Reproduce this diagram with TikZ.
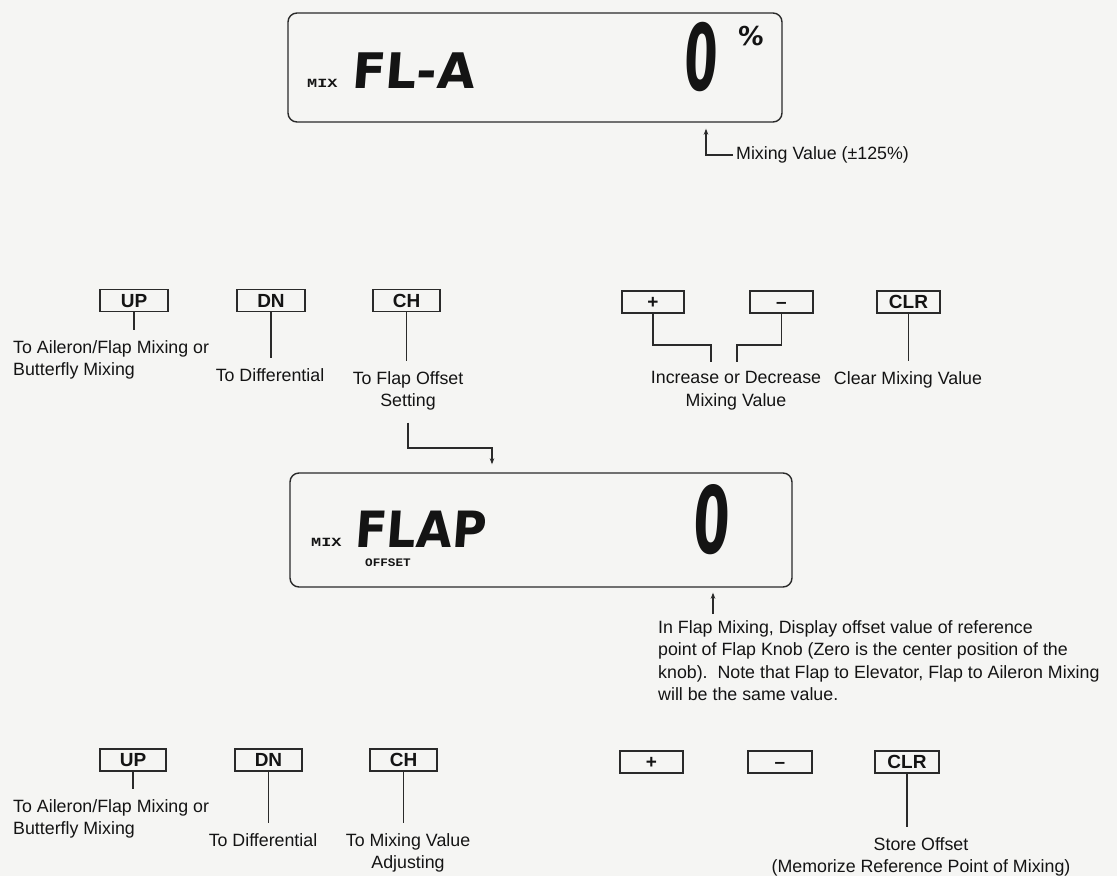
\documentclass[tikz,border=0pt]{standalone}
\usepackage{graphicx}
\usepackage{fontspec}
\setmainfont{Liberation Sans}
\newfontfamily\lcdfont[FakeSlant=0.08]{DejaVu Sans}
\newfontfamily\mixfont{Liberation Mono}
\usetikzlibrary{arrows.meta}
\definecolor{ink}{HTML}{141414}
\definecolor{lc}{HTML}{2A2A2A}
\definecolor{bg}{HTML}{F5F5F3}
\begin{document}
\begin{tikzpicture}[x=1pt,y=-1pt,
  ln/.style={draw=lc,line width=1.3pt},
  lead/.style={ln,shorten >=10pt},
  arr/.style={-{Stealth[length=6pt,width=4.5pt]}},
  btn/.style={draw=lc,line width=1.3pt,inner sep=0pt,text=ink,font=\fontsize{19}{19}\selectfont\bfseries,minimum height=22pt,text height=13.6pt,text depth=0pt},
  lbl/.style={inner sep=0pt,text=ink,font=\fontsize{17.8}{22.6}\selectfont},
  lcd/.style={draw=lc,line width=1.4pt,rounded corners=9pt,inner sep=0pt},
  lcdtxt/.style={inner sep=0pt,text=ink,anchor=base west},
]
\fill[bg] (0,0) rectangle (1117,876);
\useasboundingbox (0,0) rectangle (1117,876);

% ---------- top LCD ----------
\node[lcd,minimum width=494pt,minimum height=109pt] (lcd1) at (535,67.5) {};
\node[lcdtxt,font=\fontsize{12.5}{12.5}\mixfont\bfseries] (mix1) at (307,87) {\scalebox{1.35}[1]{MIX}};
\node[lcdtxt,font=\fontsize{49}{49}\lcdfont\bfseries] (fla) at (351,88) {FL-A};
\node[lcdtxt,font=\fontsize{92}{92}\lcdfont\bfseries] (z1) at (683,90) {\scalebox{0.52}[1]{0}};
\node[lcdtxt,font=\fontsize{26}{26}\lcdfont\bfseries] (pc) at (737,45) {\%};

\node[lbl,anchor=west] (mvL) at (736,155) {Mixing Value (±125\%)};
\coordinate (mvc) at (706,155);
\draw[ln,arr,shorten <=3pt,shorten >=6pt] (mvL.west) -- (mvc) -- (mvc |- lcd1.south);

% ---------- first button row ----------
\node[btn,minimum width=68pt] (up1) at (134,300.5) {UP};
\node[btn,minimum width=68pt] (dn1) at (271,300.5) {DN};
\node[btn,minimum width=67pt] (ch1) at (406.5,300.5) {CH};
\node[btn,minimum width=62pt] (plus1) at (653,302) {+};
\node[btn,minimum width=63pt] (minus1) at (781.5,302) {\textendash};
\node[btn,minimum width=63pt] (clr1) at (908.5,302) {CLR};

\node[lbl,anchor=north west,align=left] (upL1) at (13,340) {To Aileron/Flap Mixing or\\Butterfly Mixing};
\node[lbl,anchor=north] (dnL1) at (270,368) {To Differential};
\node[lbl,anchor=north,align=center] (chL1) at (408,371) {To Flap Offset\\Setting};
\node[lbl,anchor=north,align=center] (incL) at (736,371) {Increase or Decrease\\Mixing Value};
\node[lbl,anchor=north] (clrL1) at (908,371) {Clear Mixing Value};

\draw[lead] (up1.south) -- (up1.south |- upL1.north);
\draw[lead] (dn1.south) -- (dn1.south |- dnL1.north);
\draw[lead] (ch1.south) -- (ch1.south |- chL1.north);
\draw[lead] (clr1.south) -- (clr1.south |- clrL1.north);
\coordinate (pa) at (711,345);
\coordinate (pb) at (737,345);
\draw[ln,shorten >=9pt] (plus1.south) |- (pa) -- (pa |- incL.north);
\draw[ln,shorten >=9pt] (minus1.south) |- (pb) -- (pb |- incL.north);

% ---------- second LCD ----------
\node[lcd,minimum width=502pt,minimum height=114pt] (lcd2) at (541,530) {};
\node[lcdtxt,font=\fontsize{12.5}{12.5}\mixfont\bfseries] (mix2) at (311,546) {\scalebox{1.35}[1]{MIX}};
\node[lcdtxt,font=\fontsize{50}{50}\lcdfont\bfseries] (flap) at (354,547) {\scalebox{0.93}[1]{FLAP}};
\node[lcdtxt,font=\fontsize{11.5}{11.5}\mixfont\bfseries] (off) at (365,566) {\scalebox{1.1}[1]{OFFSET}};
\node[lcdtxt,font=\fontsize{93}{93}\lcdfont\bfseries] (z2) at (692,553) {\scalebox{0.56}[1]{0}};

\coordinate (sb) at (492,448);
\draw[ln,arr,shorten <=12pt,shorten >=8pt] (chL1.south) |- (sb) -- (sb |- lcd2.north);

\node[lbl,anchor=north west,align=left] (note) at (658,620) {In Flap Mixing, Display offset value of reference\\point of Flap Knob (Zero is the center position of the\\knob).\ \ Note that Flap to Elevator, Flap to Aileron Mixing\\will be the same value.};
\coordinate (nt) at (713,612);
\draw[ln,arr,shorten <=6pt,shorten >=5pt] (note.north -| nt) -- (nt |- lcd2.south);

% ---------- second button row ----------
\node[btn,minimum width=66pt] (up2) at (133,760) {UP};
\node[btn,minimum width=67pt] (dn2) at (268.5,760) {DN};
\node[btn,minimum width=67pt] (ch2) at (403.5,760) {CH};
\node[btn,minimum width=63pt] (plus2) at (651.5,762) {+};
\node[btn,minimum width=64pt] (minus2) at (780,762) {\textendash};
\node[btn,minimum width=64pt] (clr2) at (907,762) {CLR};

\node[lbl,anchor=north west,align=left] (upL2) at (13,799) {To Aileron/Flap Mixing or\\Butterfly Mixing};
\node[lbl,anchor=north] (dnL2) at (263,833) {To Differential};
\node[lbl,anchor=north,align=center] (chL2) at (408,833) {To Mixing Value\\Adjusting};
\node[lbl,anchor=north,align=center] (clrL2) at (921,837) {Store Offset\\(Memorize Reference Point of Mixing)};

\draw[lead] (up2.south) -- (up2.south |- upL2.north);
\draw[lead] (dn2.south) -- (dn2.south |- dnL2.north);
\draw[lead] (ch2.south) -- (ch2.south |- chL2.north);
\draw[lead] (clr2.south) -- (clr2.south |- clrL2.north);
\end{tikzpicture}
\end{document}
